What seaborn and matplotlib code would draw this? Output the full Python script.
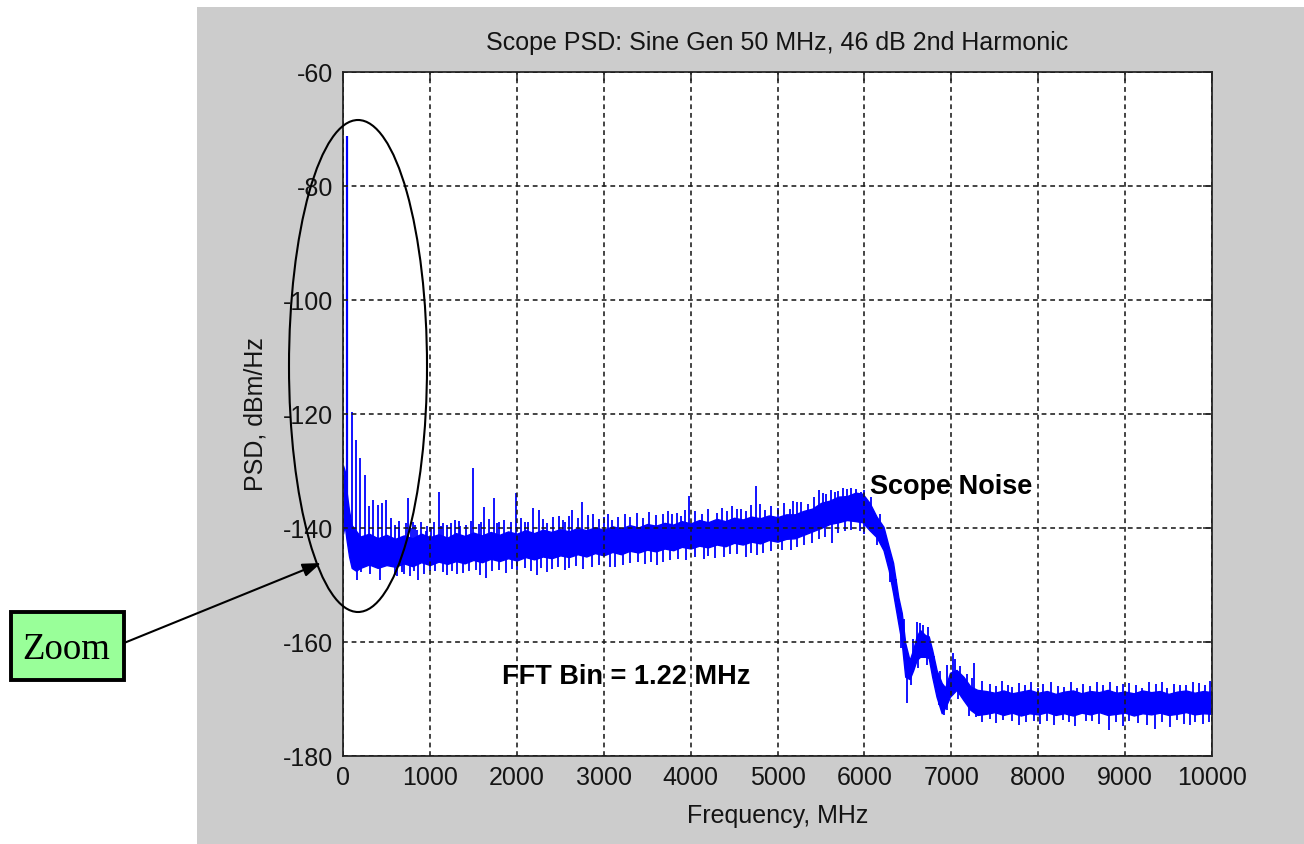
import matplotlib
matplotlib.use("Agg")
import numpy as np
import pandas as pd
import seaborn as sns
import matplotlib.pyplot as plt
from matplotlib.patches import Rectangle, Ellipse, FancyArrowPatch

# ---------------- data ----------------
title = "Scope PSD: Sine Gen 50 MHz, 46 dB 2nd Harmonic"
xlabel = "Frequency, MHz"
ylabel = "PSD, dBm/Hz"
xticks = [0, 1000, 2000, 3000, 4000, 5000, 6000, 7000, 8000, 9000, 10000]
yticks = [-180, -160, -140, -120, -100, -80, -60]

# noise-floor band: frequency (MHz), upper and lower edge (dBm/Hz)
band_f = [0, 20, 40, 70, 100, 150,
          200, 300, 400, 500, 600, 700, 800, 900, 1000, 1100, 1200, 1300, 1400,
          1500, 1600, 1700, 1800, 1900, 2000, 2100, 2200, 2300, 2400, 2500, 2600,
          2700, 2800, 2900, 3000, 3100, 3200, 3300, 3400, 3500, 3600, 3700, 3800,
          3900, 4000, 4100, 4200, 4300, 4400, 4500, 4600, 4700, 4800, 4900, 5000,
          5100, 5200, 5300, 5400, 5500, 5600, 5700, 5800, 5900,
          5980, 6060, 6140, 6220, 6280, 6330, 6390, 6430, 6470, 6520, 6560, 6600,
          6640, 6700, 6740, 6780, 6830, 6890, 6930, 6985, 7060, 7140, 7220, 7300,
          7400, 7500, 7600, 7700, 7800, 7900, 8000, 8100, 8200, 8300, 8400, 8500,
          8600, 8700, 8800, 8900, 9000, 9100, 9200, 9300, 9400, 9500, 9600, 9700,
          9800, 9900, 10000]
band_hi = [-129.0, -130.0, -133.5, -137.0, -139.5, -140.5,
           -141.5, -141.0, -141.8, -141.2, -141.9, -141.3, -141.8, -141.0, -141.6,
           -141.1, -141.7, -140.9, -141.4, -140.8, -141.3, -140.7, -141.2, -140.6,
           -141.0, -140.4, -140.9, -140.3, -140.7, -140.2, -140.6, -140.0, -140.4,
           -139.9, -140.3, -139.7, -140.1, -139.5, -139.9, -139.3, -139.6, -139.1,
           -139.4, -138.8, -139.2, -138.6, -139.0, -138.4, -138.8, -138.2, -138.5,
           -138.0, -138.3, -137.8, -138.1, -137.6, -137.6, -137.0, -136.6, -135.6,
           -135.2, -134.5, -134.4, -133.8,
           -134.0, -135.6, -138.0, -139.8, -143.3, -146.1, -152.1, -154.9, -160.2,
           -163.2, -161.4, -159.1, -157.9, -158.8, -159.0, -161.4, -164.9, -167.2,
           -168.0, -165.4, -164.9, -166.1, -167.8, -168.4,
           -168.6, -168.9, -168.5, -169.0, -168.7, -168.4, -168.9, -168.6, -169.1,
           -168.7, -168.5, -169.0, -168.6, -168.8, -168.4, -168.9, -168.7, -169.0,
           -168.5, -168.8, -168.6, -169.1, -168.7, -168.5, -168.9, -168.6, -168.8]
band_lo = [-141.0, -139.5, -142.0, -145.0, -147.0, -147.5,
           -147.0, -146.4, -147.0, -146.5, -146.8, -146.2, -146.7, -146.0, -146.5,
           -145.9, -146.3, -145.8, -146.2, -145.6, -146.0, -145.4, -145.8, -145.3,
           -145.7, -145.1, -145.5, -145.0, -145.3, -144.8, -145.1, -144.6, -145.0,
           -144.4, -144.8, -144.2, -144.6, -144.0, -144.3, -143.8, -144.1, -143.6,
           -143.9, -143.3, -143.6, -143.1, -143.4, -142.9, -143.2, -142.6, -142.9,
           -142.4, -142.7, -142.1, -142.4, -141.9, -141.8, -141.2, -140.6, -140.0,
           -139.3, -139.0, -138.6, -138.8,
           -139.0, -140.4, -141.6, -143.9, -147.4, -151.4, -156.7, -160.2, -166.1,
           -166.5, -165.0, -163.2, -162.6, -162.6, -162.8, -166.1, -169.6, -172.5,
           -171.5, -169.6, -168.4, -170.2, -171.9, -172.8,
           -172.6, -172.3, -172.8, -172.4, -172.9, -172.5, -172.7, -172.3, -172.8,
           -172.5, -172.9, -172.4, -172.7, -172.3, -172.8, -172.6, -172.4, -172.9,
           -172.5, -172.7, -172.4, -172.8, -172.6, -172.3, -172.7, -172.5, -172.6]

# fundamental tone
fund_f = [50]
fund_db = [-71.3]

# spurs / noise spikes above the floor
up_f = [100, 150, 200, 250, 300, 350, 400, 450, 500, 550, 600, 650, 750, 800,
        850, 950, 1010, 1100, 1150, 1200, 1290, 1350, 1500, 1560, 1620, 1740,
        1800, 1990, 2100, 2190, 2250, 2350, 2490, 2560, 2640, 2750, 2880, 2950,
        3100, 3245, 3303, 3450, 3686, 3782, 3890, 3985, 4130, 4300, 4420, 4530,
        4640, 4749, 4860, 5000, 5144, 5228, 5350, 5481, 5560, 5700, 5800, 5903,
        5960, 6080, 6180, 6640, 6735, 7014, 7265, 7515, 7700, 7996, 8300, 8450,
        8600, 8902, 9200, 9480, 9700, 9924]
up_db = [-119.6, -124.6, -127.7, -130.7, -136.1, -135.1, -136.0, -135.6, -135.1,
         -138.2, -139.5, -138.8, -134.7, -139.0, -140.4, -140.6, -139.8, -133.6,
         -139.2, -139.5, -138.6, -139.6, -129.4, -139.3, -136.4, -134.7, -139.0,
         -133.9, -139.0, -136.5, -136.8, -139.2, -137.9, -139.0, -136.8, -135.4,
         -137.5, -138.5, -138.6, -137.5, -138.0, -138.3, -137.5, -137.5, -137.9,
         -134.4, -137.6, -137.4, -137.0, -136.7, -137.0, -132.6, -136.9, -136.5,
         -136.7, -135.4, -135.8, -133.3, -134.0, -133.5, -133.2, -133.2, -133.6,
         -134.5, -137.5, -156.7, -157.4, -162.0, -163.7, -167.8, -167.9, -168.0,
         -167.9, -168.1, -167.8, -167.8, -168.0, -168.0, -167.6, -167.5]

# spikes below the floor
down_f = [160, 212, 309, 424, 600, 700, 860, 1000, 1150, 1311, 1450, 1650, 1800,
          1950, 2100, 2227, 2400, 2600, 2871, 3072, 3218, 3400, 3610, 3850, 4050,
          4280, 4450, 4637, 4837, 5050, 5300, 5626, 6487, 6918, 7283, 7600, 7861,
          8100, 8285, 8550, 8817, 9050, 9345, 9600, 9800, 9960]
down_db = [-149.1, -147.8, -148.0, -149.1, -148.3, -148.0, -149.1, -147.5, -147.8,
           -148.0, -147.6, -148.8, -147.4, -147.2, -147.0, -148.2, -147.2, -147.0,
           -146.8, -146.8, -146.5, -145.9, -146.5, -145.5, -145.0, -145.3, -144.6,
           -145.1, -144.4, -143.8, -143.0, -142.7, -170.7, -172.8, -173.1, -173.6,
           -174.0, -173.8, -173.7, -173.9, -175.4, -173.8, -175.2, -173.7, -174.0,
           -174.0]

# small noise excursions that make the band edges ragged
fuzz_up_f = [650, 720, 780, 830, 900, 970, 1050, 1130, 1240, 1330, 1420, 1470,
             1590, 1680, 1770, 1850, 1930, 2050, 2130, 2300, 2420, 2530, 2600,
             2700, 2820, 3000, 3050, 3170, 3380, 3520, 3600, 3740, 3840, 3940,
             4050, 4200, 4360, 4480, 4580, 4700, 4800, 4930, 5080, 5180, 5270,
             5420, 5520, 5620, 5660, 5750, 5850, 6000,
             6250, 6360, 6450, 6560, 6610, 6680, 6800, 6870, 6950, 7040, 7100,
             7180, 7240,
             7350, 7450, 7580, 7650, 7780, 7850, 7920, 8050, 8150, 8230, 8380,
             8520, 8680, 8750, 8830, 8980, 9050, 9130, 9280, 9350, 9420, 9560,
             9630, 9780, 9850, 9980]
fuzz_up_db = [-139.8, -139.2, -140.0, -139.4, -139.0, -139.7, -138.9, -139.6,
              -139.1, -138.7, -139.4, -138.8, -139.0, -138.5, -139.2, -138.6,
              -138.9, -138.3, -138.9, -138.4, -138.1, -138.6, -137.9, -138.3,
              -137.8, -138.0, -137.6, -138.1, -137.4, -137.2, -137.7, -137.0,
              -137.4, -136.9, -137.0, -136.7, -136.5, -136.2, -136.6, -136.0,
              -135.8, -136.2, -135.6, -135.2, -135.5, -134.6, -133.9, -133.4,
              -133.7, -132.9, -133.0, -133.4,
              -141.5, -149.0, -156.0, -159.5, -156.5, -157.0, -162.5, -165.0,
              -164.0, -163.0, -164.2, -165.6, -166.3,
              -166.8, -167.3, -166.9, -167.5, -167.2, -167.6, -167.0, -167.4,
              -167.1, -167.7, -167.0, -167.3, -167.1, -167.5, -167.0, -167.4,
              -167.2, -167.6, -167.1, -167.4, -167.0, -167.3, -167.5, -167.0,
              -167.2, -166.9]
fuzz_down_f = [620, 680, 770, 820, 930, 1060, 1200, 1260, 1380, 1530, 1580, 1720,
               1880, 2000, 2160, 2280, 2350, 2470, 2550, 2680, 2760, 2950, 3130,
               3300, 3480, 3550, 3680, 3760, 3950, 4150, 4200, 4380, 4530, 4700,
               4760, 4920, 5150, 5230, 5400, 5480, 5550, 5700, 5780, 5850, 5950,
               6000,
               6150, 6300, 6420, 6540, 6620, 6720, 6860, 6950, 7080, 7200,
               7350, 7450, 7520, 7700, 7780, 7950, 8020, 8180, 8350, 8420, 8620,
               8700, 8900, 8980, 9150, 9250, 9430, 9520, 9680, 9750, 9900]
fuzz_down_db = [-148.5, -147.8, -148.4, -147.6, -148.0, -147.6, -148.3, -147.5,
                -147.9, -147.3, -148.2, -147.5, -147.9, -147.3, -147.6, -147.0,
                -147.7, -146.9, -147.4, -146.7, -147.2, -146.5, -146.8, -146.2,
                -146.4, -145.9, -146.0, -145.6, -145.7, -145.5, -144.9, -145.0,
                -144.6, -144.3, -144.8, -144.1, -143.8, -143.4, -142.6, -142.0,
                -141.6, -140.9, -140.5, -140.3, -140.6, -141.0,
                -143.0, -149.5, -161.0, -167.5, -164.5, -164.0, -171.0, -172.0,
                -170.0, -173.0,
                -174.0, -173.5, -174.2, -173.9, -174.5, -173.8, -174.3, -174.6,
                -174.0, -174.8, -173.9, -174.4, -174.1, -174.7, -174.2, -174.6,
                -174.0, -174.9, -174.3, -174.6, -174.4]

# ---------------- figure ----------------
sns.set_style("white")
plt.rcParams["font.family"] = ["Liberation Sans", "DejaVu Sans"]

W, H = 1304, 844
fig = plt.figure(figsize=(W / 100, H / 100), dpi=100, facecolor="white")


def fx(px):
    return px / W


def fy(py):
    return 1 - py / H


# gray MATLAB figure background
fig.add_artist(Rectangle((fx(197), 0), 1 - fx(197), fy(7), transform=fig.transFigure,
                         facecolor="#cccccc", edgecolor="none", zorder=-10))

ax = fig.add_axes([fx(343), fy(756), fx(1212) - fx(343), fy(72) - fy(756)])
ax.set_facecolor("white")

blue = "#0000ff"
band_df = pd.DataFrame({
    "f": np.concatenate([band_f, band_f]),
    "psd": np.concatenate([band_hi, band_lo]),
})
sns.lineplot(data=band_df, x="f", y="psd", ax=ax, estimator="mean",
             errorbar=("pi", 100), color=blue, linewidth=1.0,
             err_kws={"alpha": 1.0, "linewidth": 1.0, "edgecolor": blue})

mid = (np.array(band_hi) + np.array(band_lo)) / 2
for fs, ds in [(up_f, up_db), (down_f, down_db),
               (fuzz_up_f, fuzz_up_db), (fuzz_down_f, fuzz_down_db)]:
    ax.vlines(fs, np.interp(fs, band_f, mid), ds, color=blue, linewidth=1.3)
ax.vlines(fund_f, np.interp(fund_f, band_f, mid), fund_db, color=blue, linewidth=1.6)

ax.set_xlim(0, 10000)
ax.set_ylim(-180, -60)
ax.set_xticks(xticks)
ax.set_yticks(yticks)
ax.set_xticklabels([str(v) for v in xticks])
ax.set_yticklabels([str(v) for v in yticks])

txt = "#141414"
ax.grid(True, color="#1a1a1a", linestyle=(0, (3.0, 2.4)), linewidth=1.15)
ax.set_axisbelow(False)
for s in ax.spines.values():
    s.set_color("#262626")
    s.set_linewidth(1.3)
ax.tick_params(direction="in", length=6.5, width=1.1, top=True, right=True,
               colors="#262626", labelcolor=txt, labelsize=18, pad=7)

ax.set_title(title, fontsize=18, color=txt, pad=16)
ax.set_xlabel(xlabel, fontsize=18, color=txt, labelpad=10)
ax.set_ylabel(ylabel, fontsize=18, color=txt, labelpad=11)

ax.text(6066, -132.8, "Scope Noise", fontsize=19.5, fontweight="bold", color="black",
        ha="left", va="center")
ax.text(1835, -166.1, "FFT Bin = 1.22 MHz", fontsize=19.5, fontweight="bold",
        color="black", ha="left", va="center")

# annotation: ellipse, arrow and "Zoom" box
fig.add_artist(Ellipse((fx(358), fy(366)), width=138 / W, height=492 / H,
                       transform=fig.transFigure, facecolor="none",
                       edgecolor="black", linewidth=1.5, zorder=5))
fig.add_artist(FancyArrowPatch((fx(124), fy(643)), (fx(321), fy(563)),
                               transform=fig.transFigure,
                               arrowstyle="-|>,head_length=0.55,head_width=0.2",
                               mutation_scale=20, color="black", linewidth=1.5,
                               shrinkA=0, shrinkB=0, zorder=5))
fig.add_artist(Rectangle((fx(11), fy(680)), (124 - 11) / W, (680 - 612) / H,
                         transform=fig.transFigure, facecolor="#99ff99",
                         edgecolor="black", linewidth=2.8, zorder=6))
fig.text(fx(66), fy(659), "Zoom", fontsize=26.5, family=["Liberation Serif", "DejaVu Serif"],
         color="black", ha="center", va="baseline", zorder=7)

fig.savefig("out.png", dpi=100, facecolor="white")
